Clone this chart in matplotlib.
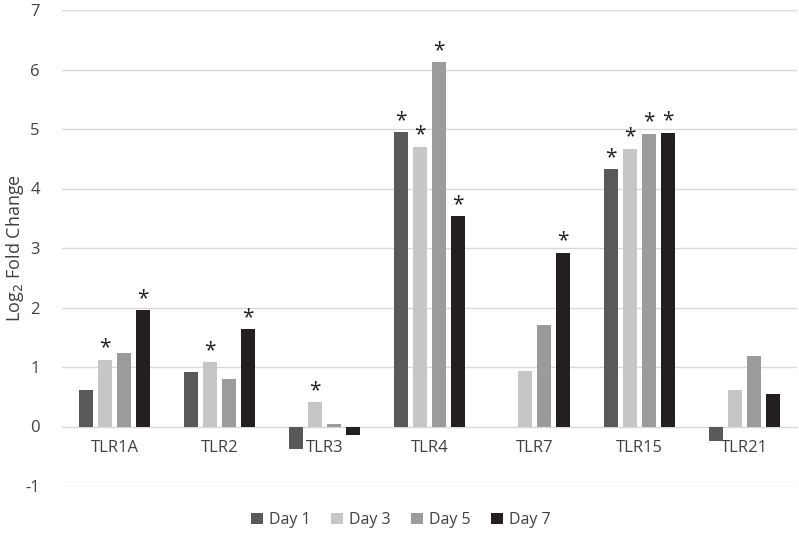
import matplotlib
matplotlib.use("Agg")
import matplotlib.pyplot as plt
import numpy as np

categories = ["TLR1A", "TLR2", "TLR3", "TLR4", "TLR7", "TLR15", "TLR21"]
series_names = ["Day 1", "Day 3", "Day 5", "Day 7"]
day1 = [0.62, 0.92, -0.37, 4.95, 0.0, 4.32, -0.25]
day3 = [1.12, 1.08, 0.41, 4.70, 0.93, 4.67, 0.62]
day5 = [1.23, 0.80, 0.05, 6.12, 1.70, 4.92, 1.19]
day7 = [1.95, 1.64, -0.15, 3.53, 2.92, 4.94, 0.55]
sig1 = [False, False, False, True, False, True, False]
sig3 = [True, True, True, True, False, True, False]
sig5 = [False, False, False, True, False, True, False]
sig7 = [True, True, False, True, True, True, False]
yticks = [-1, 0, 1, 2, 3, 4, 5, 6, 7]

colors = ["#595959", "#c6c6c6", "#9b9b9c", "#231f20"]
series = [day1, day3, day5, day7]
sigs = [sig1, sig3, sig5, sig7]

plt.rcParams['font.family'] = ['Open Sans', 'DejaVu Sans']
fig = plt.figure(figsize=(7.99, 5.46), dpi=100)
ax = fig.add_axes([62/799, 1-486/546, (797-62)/799, (486-10)/546])

x = np.arange(len(categories))
w = 0.133
pitch = 0.181
for i, (vals, col, sg, name) in enumerate(zip(series, colors, sigs, series_names)):
    pos = x + (i - 1.5) * pitch
    ax.bar(pos, vals, width=w, color=col, label=name, zorder=3)
    for p, v, s in zip(pos, vals, sg):
        if s:
            ax.text(p, max(v, 0) + 0.02, "*", ha="center", va="bottom",
                    fontsize=15, color="#231f20", zorder=4)

ax.set_xlim(-0.5, len(categories) - 0.5)
ax.set_ylim(-1, 7)
ax.set_yticks(yticks)
ax.set_yticklabels([str(t) for t in yticks])
ax.yaxis.grid(True, color="#d9d9d9", linewidth=1, zorder=0)
ax.set_axisbelow(True)
for s in ["top", "right", "left"]:
    ax.spines[s].set_visible(False)
ax.spines["bottom"].set_position(("data", 0))
ax.spines["bottom"].set_color("#d9d9d9")
ax.set_xticks(x)
ax.set_xticklabels(categories)
ax.tick_params(axis="x", length=0, pad=10, labelsize=12, labelcolor="#404040")
ax.tick_params(axis="y", length=0, pad=16, labelsize=12, labelcolor="#404040")
fig.text(15/799, 1 - 248/546, "Log$_2$ Fold Change", rotation=90, ha="center",
         va="center", fontsize=13, color="#404040")

leg = fig.legend(loc="center", bbox_to_anchor=(401/799, 1-520/546), ncol=4,
                 frameon=False, fontsize=11.5, handlelength=0.7, handleheight=0.7,
                 columnspacing=1.3, handletextpad=0.4)
for t in leg.get_texts():
    t.set_color("#404040")

fig.savefig("out.png", dpi=100)
